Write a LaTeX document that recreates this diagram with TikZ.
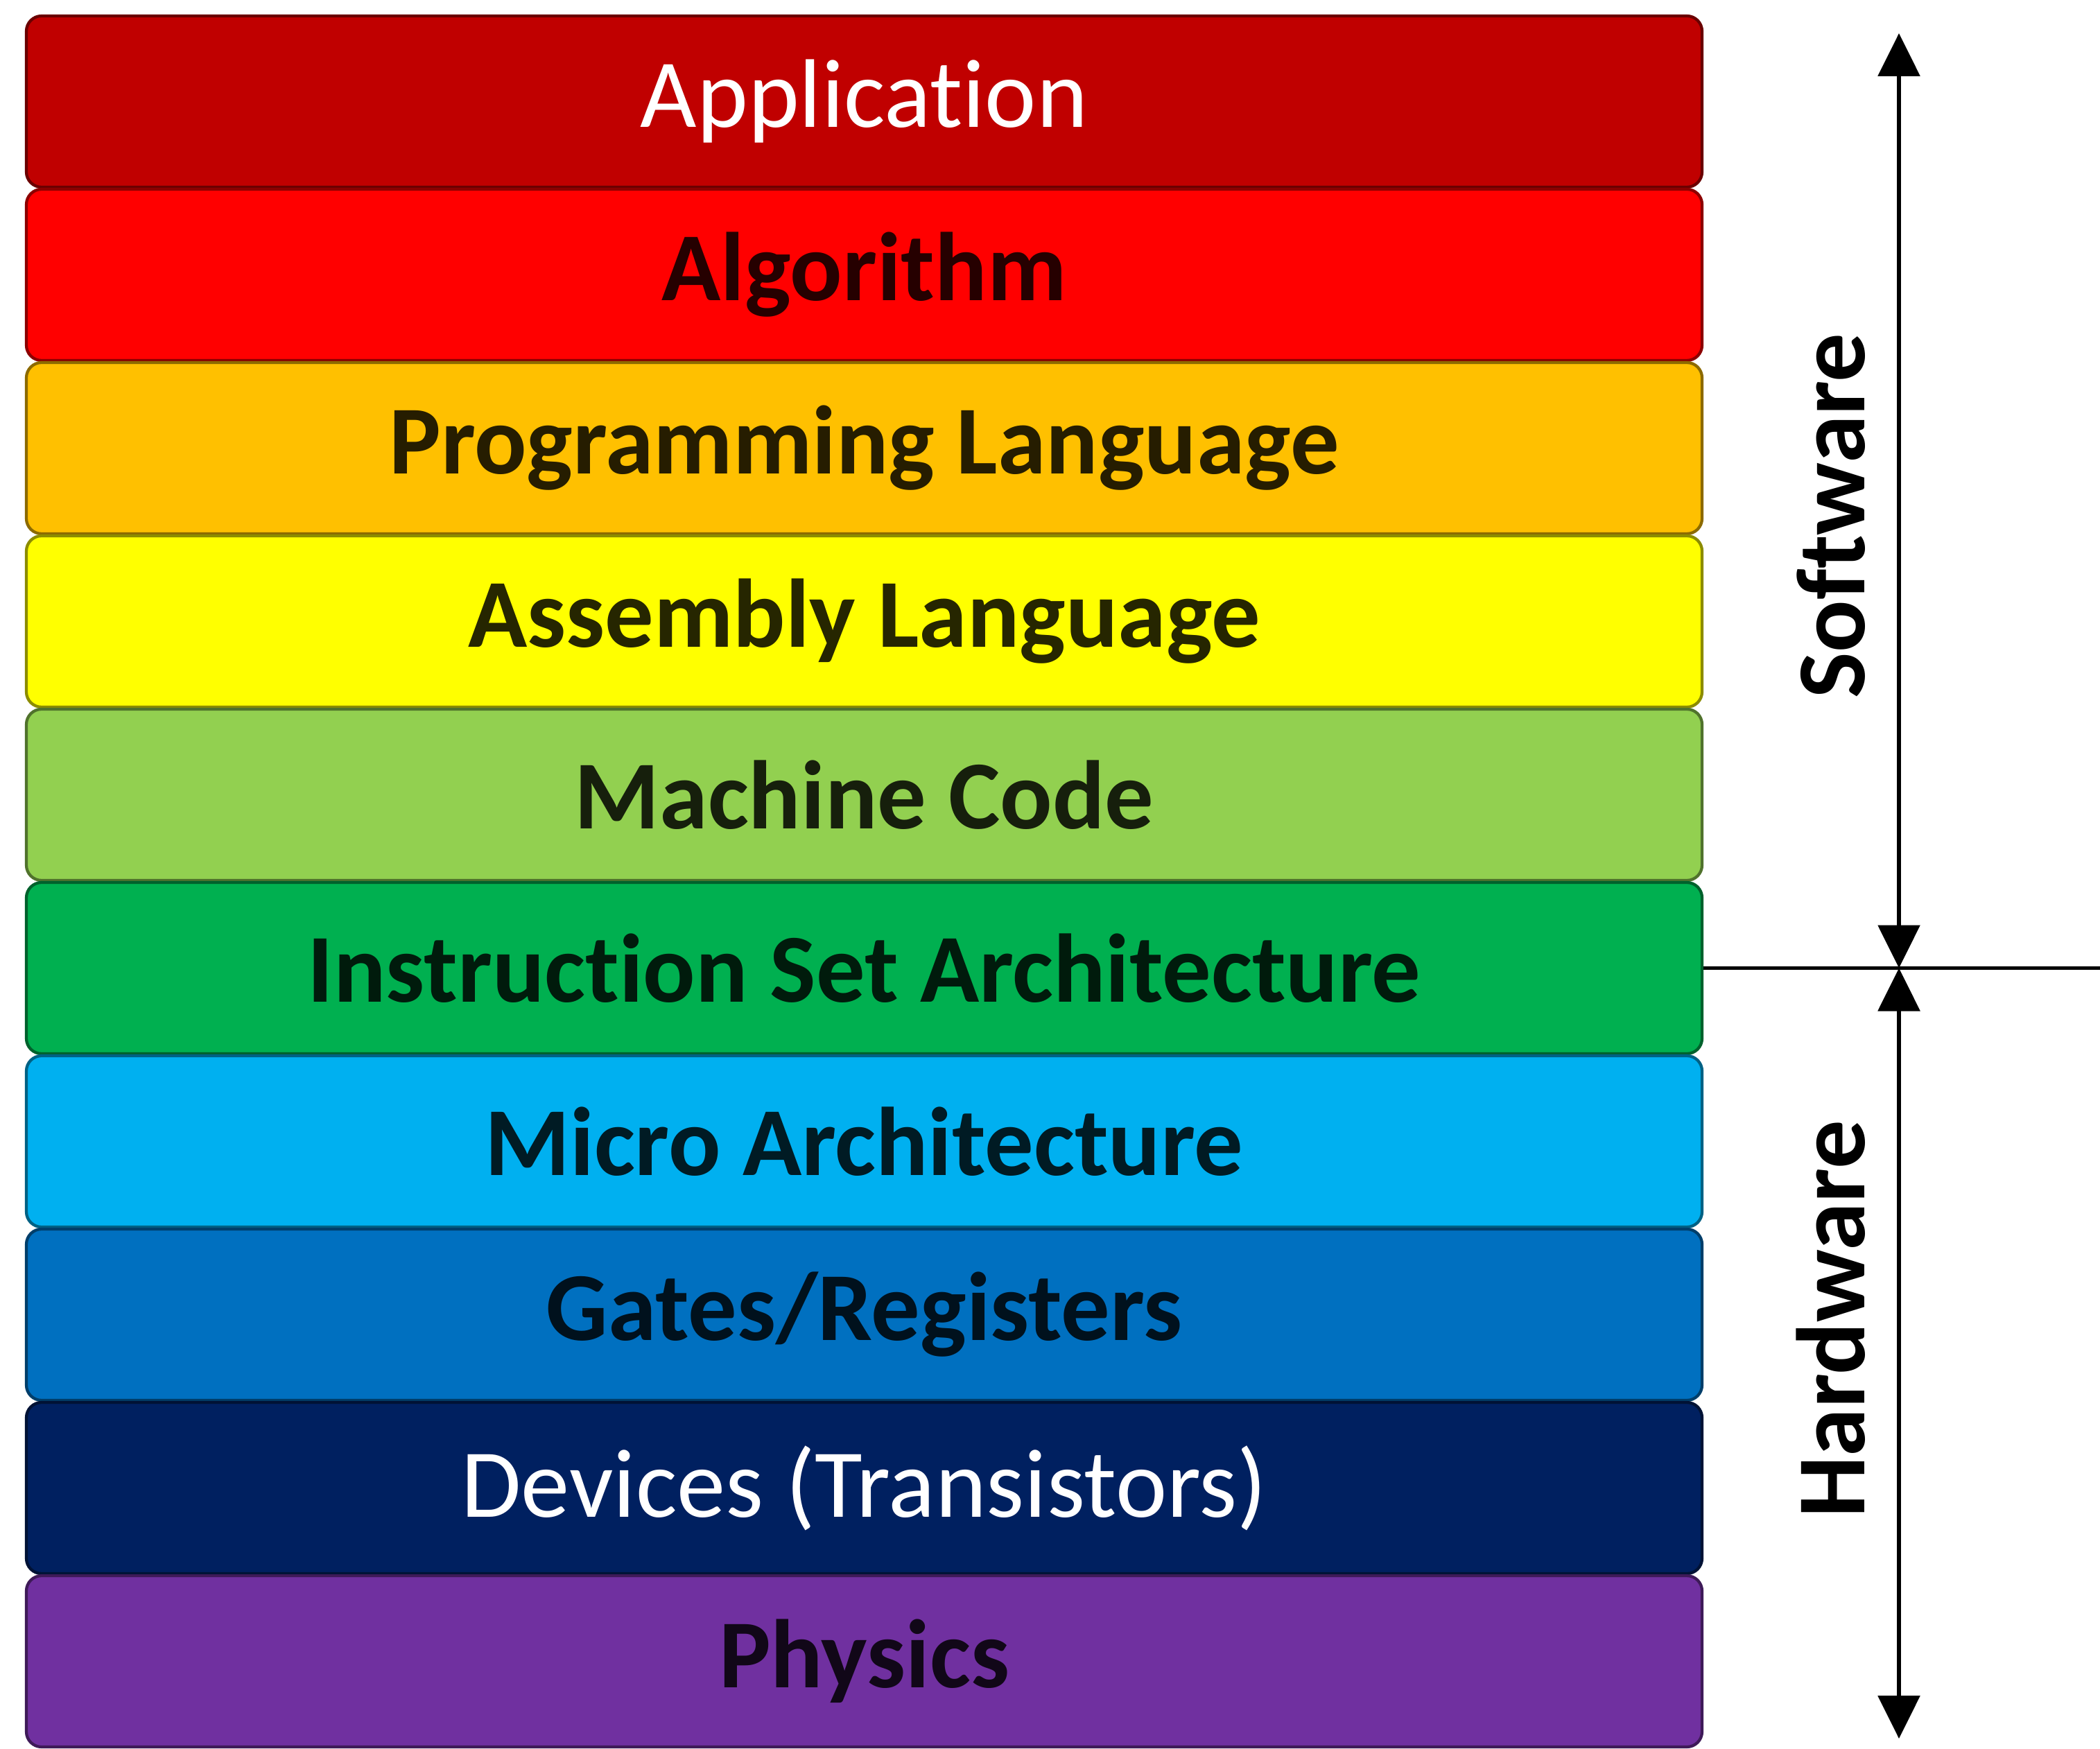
\documentclass[tikz,border=0pt]{standalone}
\usepackage{fontspec}
\setmainfont[Ligatures=NoCommon]{Carlito}
\usepackage{xcolor}
\usetikzlibrary{positioning,arrows.meta}

\definecolor{appred}{HTML}{C00000}
\definecolor{algred}{HTML}{FF0000}
\definecolor{progamber}{HTML}{FFC000}
\definecolor{asmyellow}{HTML}{FFFF00}
\definecolor{codegreen}{HTML}{92D050}
\definecolor{isagreen}{HTML}{00B050}
\definecolor{microcyan}{HTML}{00B0F0}
\definecolor{gateblue}{HTML}{0070C0}
\definecolor{devnavy}{HTML}{002060}
\definecolor{physpurple}{HTML}{7030A0}

\tikzset{
  layer/.style={draw=#1!55!black, fill=#1, line width=1.2pt, rounded corners=0.22cm,
    minimum width=24.17cm, minimum height=2.47cm, inner sep=0pt,
    text=#1!15!black, font=\fontsize{40}{48}\selectfont\bfseries},
  light/.style={text=white, font=\fontsize{40}{48}\selectfont},
  side/.style={rotate=90, anchor=base, font=\fontsize{40}{48}\selectfont\bfseries},
  span/.style={{Triangle[width=6mm,length=6.2mm]}-{Triangle[width=6mm,length=6.2mm]}, line width=1.7pt},
  rule/.style={line width=1.7pt}
}

\begin{document}
\begin{tikzpicture}[node distance=2.5cm,on grid,auto]
  \useasboundingbox (0,0) rectangle (30.29,25.22);
  \node[layer=appred,light] (app) at (12.465,23.755) {Application};
  \node[layer=algred]       (alg)  [below of=app]  {Algorithm};
  \node[layer=progamber]    (prog) [below of=alg]  {Programming Language};
  \node[layer=asmyellow]    (asm)  [below of=prog] {Assembly Language};
  \node[layer=codegreen]    (code) [below of=asm]  {Machine Code};
  \node[layer=isagreen]     (isa)  [below of=code] {Instruction Set Architecture};
  \node[layer=microcyan]    (micro)[below of=isa]  {Micro Architecture};
  \node[layer=gateblue]     (gate) [below of=micro]{Gates/Registers};
  \node[layer=devnavy,light](dev)  [below of=gate] {Devices (Transistors)};
  \node[layer=physpurple]   (phys) [below of=dev]  {Physics};
  % software / hardware split
  \coordinate (rim)   at (30.29,0);
  \coordinate (swtop) at (27.39,24.74);
  \coordinate (hwbot) at (27.39,0.14);
  \coordinate (split) at (isa.east -| swtop);
  \draw[rule] (isa.east) -- (isa.east -| rim);
  \path[span] (split) edge (swtop);
  \path[span] (split) edge (hwbot);
  \node[side] (sw) at (26.89,17.78) {Software};
  \node[side] (hw) at (26.89,6.19)  {Hardware};
\end{tikzpicture}
\end{document}
